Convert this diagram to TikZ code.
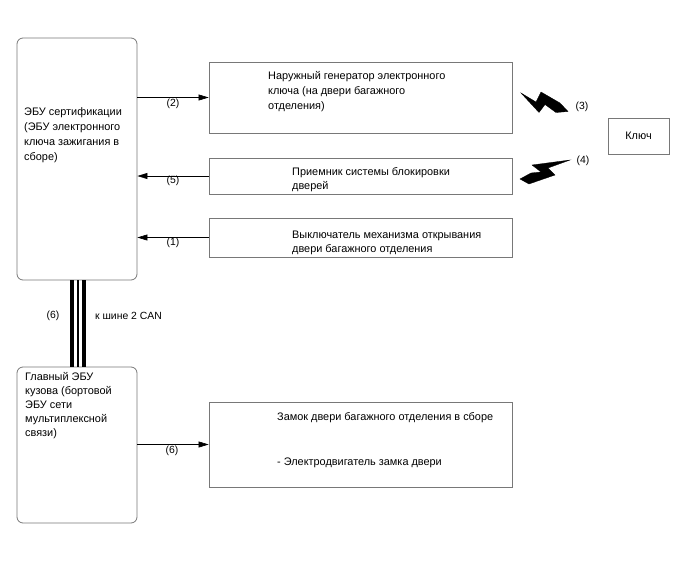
\documentclass[tikz,border=0pt]{standalone}
\usepackage{fontspec}
\setmainfont{Liberation Sans}
\usetikzlibrary{arrows.meta,calc}
\definecolor{boxgray}{RGB}{120,120,120}
\begin{document}
\begin{tikzpicture}[x=1pt,y=-1pt,
  box/.style={draw=boxgray,line width=0.8pt,minimum width=303pt,inner sep=0pt},
  ecubox/.style={draw=boxgray,line width=0.8pt,rounded corners=6pt,minimum width=120pt,inner sep=0pt},
  txt/.style={font=\fontsize{10.9}{15}\selectfont,align=left,inner sep=0pt,anchor=west},
  lbl/.style={font=\fontsize{10.4}{12}\selectfont,inner sep=0pt},
  arr/.style={line width=0.6pt,-{Triangle[length=10pt,width=6pt]}},
  bolt/.style={fill=black,draw=black,line width=0.3pt,line join=miter}]
\useasboundingbox (0,0) rectangle (688,560);
% boxes
\node[ecubox,minimum height=242pt] (ecu) at (77,159) {};
\node[ecubox,minimum height=156pt] (body) at (77,445) {};
\node[box,minimum height=71pt] (gen) at (360.5,97.5) {};
\node[box,minimum height=36pt] (recv) at (360.5,176) {};
\node[box,minimum height=39pt] (sw) at (360.5,237.5) {};
\node[box,minimum height=85pt] (lock) at (360.5,444.5) {};
\node[draw=boxgray,line width=0.8pt,minimum width=61pt,minimum height=36pt,inner sep=0pt,font=\fontsize{10.9}{12}\selectfont] (key) at (638.5,136) {Ключ};
% texts
\node[txt] (ecutxt) at (24,135.5) {ЭБУ сертификации\\(ЭБУ электронного\\ключа зажигания в\\сборе)};
\node[txt,font=\fontsize{10.9}{14}\selectfont] (bodytxt) at (25,406) {Главный ЭБУ\\кузова (бортовой\\ЭБУ сети\\мультиплексной\\связи)};
\node[txt] (gentxt) at (268,92) {Наружный генератор электронного\\ключа (на двери багажного\\отделения)};
\node[txt,font=\fontsize{10.9}{13.5}\selectfont] (recvtxt) at (292,179.5) {Приемник системы блокировки\\дверей};
\node[txt,font=\fontsize{10.9}{14}\selectfont] (swtxt) at (292,243) {Выключатель механизма открывания\\двери багажного отделения};
\node[txt] (locktxt1) at (277,418) {Замок двери багажного отделения в сборе};
\node[txt] (locktxt2) at (277,463) {- Электродвигатель замка двери};
% connectors
\draw[arr] (gen.west -| ecu.east) -- (gen.west);
\draw[arr] (recv.west) -- (recv.west -| ecu.east);
\draw[arr] (sw.west) -- (sw.west -| ecu.east);
\draw[arr] (lock.west -| body.east) -- (lock.west);
% bus lines
\draw[line width=4pt] ($(ecu.south)+(-5,0)$) -- ($(body.north)+(-5,0)$);
\draw[line width=1.2pt] ($(ecu.south)+(1,0)$) -- ($(body.north)+(1,0)$);
\draw[line width=3.8pt] ($(ecu.south)+(7,0)$) -- ($(body.north)+(7,0)$);
% labels
\node[lbl] (l2) at (173,104) {(2)};
\node[lbl] (l5) at (173,181) {(5)};
\node[lbl] (l1) at (173,243) {(1)};
\node[lbl] (l6b) at (172,451) {(6)};
\node[lbl] (l6a) at (53,316) {(6)};
\node[lbl,anchor=west] (can) at (95,316) {к шине 2 CAN};
\node[lbl] (l3) at (582,107) {(3)};
\node[lbl] (l4) at (583,161) {(4)};
% lightning bolts
\fill[bolt] (521,93) -- (536,102) -- (541,92) -- (560,103) -- (568,111.5) -- (556,112.5) -- (545,104.5) -- (539,112.5) -- cycle;
\fill[bolt] (570,160) -- (532,165) -- (541,172) -- (531,173) -- (520,179) -- (529,184) -- (555,175) -- (548,168) -- cycle;
\end{tikzpicture}
\end{document}
